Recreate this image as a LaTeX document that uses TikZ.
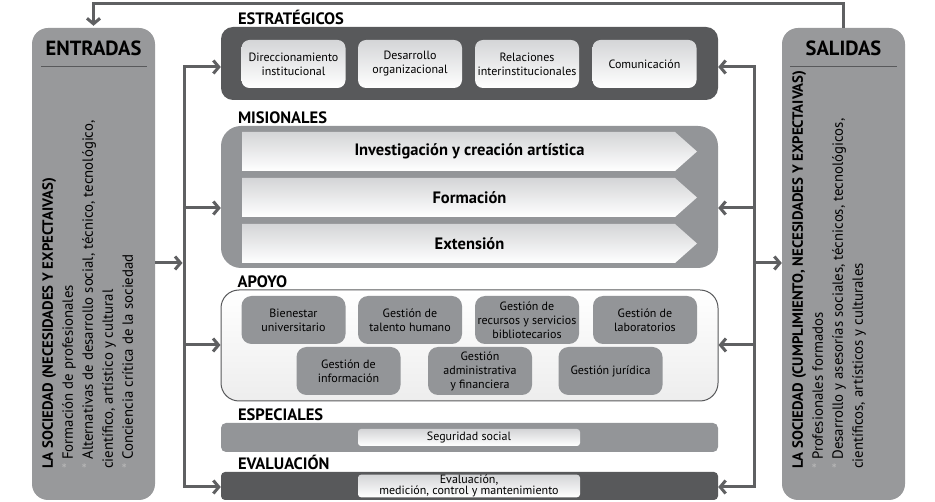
\documentclass[tikz,border=0pt]{standalone}
\usepackage{fontspec}
\setmainfont{PT Sans}
\usetikzlibrary{calc}
\usetikzlibrary{positioning}
\usetikzlibrary{arrows.meta}

\definecolor{darkgroup}{RGB}{88,89,91}
\definecolor{midgroup}{RGB}{147,149,152}
\definecolor{sidegray}{RGB}{152,153,155}
\definecolor{linkgray}{RGB}{95,96,98}
\definecolor{paleband}{RGB}{212,213,215}

\newcommand{\itemstar}{{\color{white!72!black}*}\ }

\begin{document}
\begin{tikzpicture}[%
  >={Straight Barb[length=5.5pt,width=13pt]},
  x=1pt, y=-1pt,
  sidebox/.style={fill=sidegray, rounded corners=16pt, minimum width=123pt, minimum height=472pt},
  sidetitle/.style={font=\bfseries\fontsize{20.5}{22}\selectfont},
  sidetext/.style={rotate=90, anchor=north west, align=left, inner sep=0pt, font=\fontsize{14.8}{20}\selectfont},
  groupbox/.style={minimum width=497pt, rounded corners=#1},
  groupbox/.default=12pt,
  grouptitle/.style={anchor=base west, inner sep=0pt, font=\bfseries\fontsize{16.5}{17}\selectfont},
  procbox/.style={minimum width=104pt, minimum height=48pt, align=center, inner sep=0.5pt, font=\fontsize{12}{14}\selectfont},
  palebox/.style={procbox, rounded corners=8pt, top color=paleband, bottom color=white},
  graybox/.style={procbox, rounded corners=10pt, fill=midgroup},
  bandtext/.style={font=\bfseries\fontsize{16.5}{18}\selectfont},
  link/.style={draw=linkgray, line width=3pt, ->},
  busline/.style={draw=linkgray, line width=3pt, line cap=rect},
]

  \useasboundingbox (0,0) rectangle (935,502);

  % bus points
  \coordinate (lbus1) at (184,67);
  \coordinate (lbus2) at (184,208);
  \coordinate (lbus3) at (184,345);
  \coordinate (lbus4) at (184,487);
  \coordinate (lin)   at (184,263);
  \coordinate (rbus1) at (754,67);
  \coordinate (rbus2) at (754,208);
  \coordinate (rbus3) at (754,345);
  \coordinate (rbus4) at (754,487);
  \coordinate (rout)  at (754,263);

  % side columns
  \node[sidebox] (entradas) at (93.5,264) {};
  \node[sidebox] (salidas) at (843.5,264) {};
  \node[sidetitle] (entradastitle) at (93.5,48) {ENTRADAS};
  \node[sidetitle] (salidastitle) at (843.5,48) {SALIDAS};
  \draw[darkgroup, line width=0.8pt] (41,66) -- (147,66);
  \draw[darkgroup, line width=0.8pt] (790,66) -- (897,66);

  \node[sidetext] (entradastext) at (42,469) {%
    \textbf{LA SOCIEDAD (NECESIDADES Y EXPECTAIVAS)}\\
    \itemstar Formación de profesionales\\
    \itemstar Alternativas de desarrollo social, técnico, tecnológico,\\
    científico, artístico y cultural\\
    \itemstar Conciencia crítica de la sociedad};
  \node[sidetext] (salidastext) at (792,469) {%
    \textbf{LA SOCIEDAD (CUMPLIMIENTO, NECESIDADES Y EXPECTAIVAS)}\\
    \itemstar Profesionales formados\\
    \itemstar Desarrollo y asesorías sociales, técnicos, tecnológicos,\\
    científicos, artísticos y culturales};

  % process groups
  \node[groupbox=12pt, minimum height=73pt, fill=darkgroup] (estrategicos) at (469.5,63.5) {};
  \node[groupbox=20pt, minimum height=142pt, fill=midgroup] (misionales) at (469.5,197) {};
  \node[groupbox=18pt, minimum height=111pt, draw=darkgroup, line width=1pt,
    top color=white, bottom color=gray!14] (apoyo) at (469.5,345.5) {};
  \node[groupbox=5pt, minimum height=29pt, fill=midgroup] (especiales) at (469.5,437.5) {};
  \node[groupbox=4pt, minimum height=28pt, fill=darkgroup] (evaluacion) at (469.5,486) {};

  \node[grouptitle] at ([xshift=17pt,yshift=2pt]estrategicos.north west) {ESTRATÉGICOS};
  \node[grouptitle] at ([xshift=17pt,yshift=2pt]misionales.north west) {MISIONALES};
  \node[grouptitle] at ([xshift=17pt,yshift=2pt]apoyo.north west) {APOYO};
  \node[grouptitle] at ([xshift=17pt,yshift=2pt]especiales.north west) {ESPECIALES};
  \node[grouptitle] at ([xshift=17pt,yshift=2pt]evaluacion.north west) {EVALUACIÓN};

  % estrategicos
  \node[palebox] (direccionamiento) at (293.5,64) {Direccionamiento\\institucional};
  \node[palebox] (desarrollo) at (410,64) {Desarrollo\\organizacional};
  \node[palebox] (relaciones) at (527,64) {Relaciones\\interinstitucionales};
  \node[palebox] (comunicacion) at (644.5,64) {Comunicación};

  % misionales
  \shade[top color=paleband, bottom color=white]
    (242,132) -- (675,132) -- (697,151.5) -- (675,171) -- (242,171) -- cycle;
  \shade[top color=paleband, bottom color=white]
    (242,178) -- (675,178) -- (697,197.5) -- (675,217) -- (242,217) -- cycle;
  \shade[top color=paleband, bottom color=white]
    (242,224) -- (675,224) -- (697,243.5) -- (675,263) -- (242,263) -- cycle;
  \node[bandtext] (investigacion) at (469.5,151.5) {Investigación y creación artística};
  \node[bandtext] (formacion) at (469.5,197.5) {Formación};
  \node[bandtext] (extension) at (469.5,243.5) {Extensión};

  % apoyo
  \node[graybox] (bienestar) at (293.5,320) {Bienestar\\universitario};
  \node[graybox] (talento) at (410,320) {Gestión de\\talento humano};
  \node[graybox] (recursos) at (527,320) {Gestión de\\recursos y servicios\\bibliotecarios};
  \node[graybox] (laboratorios) at (645,320) {Gestión de\\laboratorios};
  \node[graybox] (informacion) at (348.5,371) {Gestión de\\información};
  \node[graybox] (administrativa) at (480,371) {Gestión\\administrativa\\y financiera};
  \node[graybox] (juridica) at (610.5,371) {Gestión jurídica};

  % especiales y evaluacion
  \node[palebox, minimum width=222pt, minimum height=17pt, rounded corners=3pt,
    inner sep=0pt, font=\fontsize{12}{12}\selectfont] (seguridad) at (469,437.5) {Seguridad social};
  \node[palebox, minimum width=222pt, minimum height=22pt, rounded corners=3pt,
    inner sep=0pt, font=\fontsize{12}{11.5}\selectfont] (medicion) at (469,486)
    {Evaluación,\\medición, control y mantenimiento};

  % connectors
  \draw[busline] (lbus1) -- (lbus4);
  \draw[link] (lbus1) -- (lbus1 -| estrategicos.west);
  \draw[link] (lbus2) -- (lbus2 -| misionales.west);
  \draw[link] (lbus3) -- (lbus3 -| apoyo.west);
  \draw[link] (lbus4) -- (lbus4 -| evaluacion.west);
  \draw[link, shorten >=1.5pt] (entradas.east |- lin) -- (lin);

  \draw[busline] (rbus1) -- (rbus4);
  \draw[link] (rbus1) -- (rbus1 -| estrategicos.east);
  \draw[link] (rbus2) -- (rbus2 -| misionales.east);
  \draw[link] (rbus3) -- (rbus3 -| apoyo.east);
  \draw[link] (rbus4) -- (rbus4 -| evaluacion.east);
  \draw[link] (rout) -- (rout -| salidas.west);

  \draw[link, shorten >=2pt] (salidas.north) -- ++(0,-24) -| (entradas.north);

\end{tikzpicture}
\end{document}
